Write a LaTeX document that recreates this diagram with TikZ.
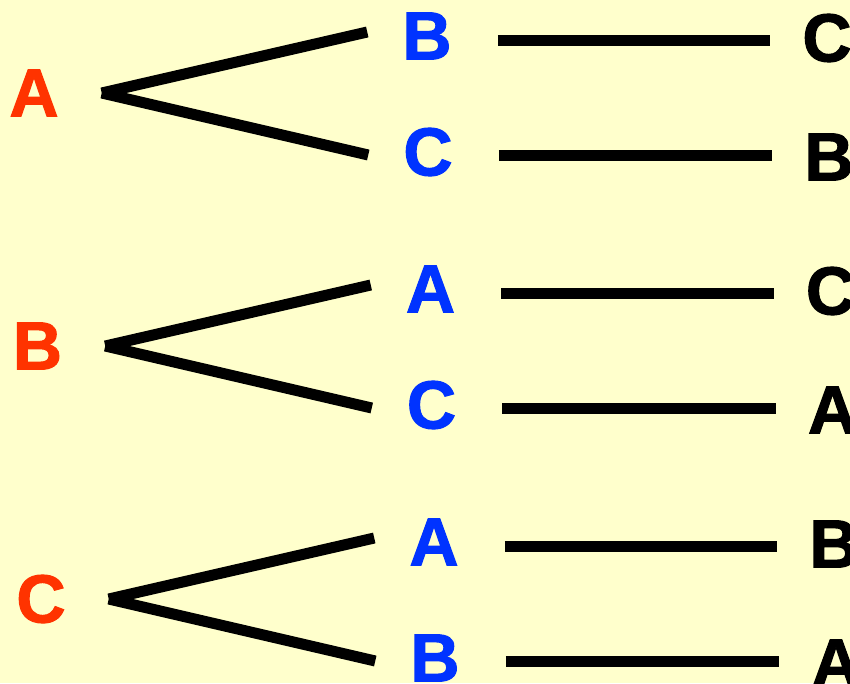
\documentclass[tikz,border=0pt]{standalone}
\usepackage{fontspec}
\setmainfont{Liberation Sans}
\newfontface\heavy{Liberation Sans Bold}[FakeBold=1.6]
\definecolor{paper}{HTML}{FFFFCC}
\definecolor{rootred}{HTML}{FF3300}
\definecolor{midblue}{HTML}{0033FF}
\tikzset{
  letter/.style={inner sep=0pt,font=\heavy\fontsize{68}{68}\selectfont},
  root/.style={letter,text=rootred},
  mid/.style={letter,text=midblue},
  leaf/.style={letter,text=black},
  twig/.style={line width=11pt,black}
}
\begin{document}
\begin{tikzpicture}[x=1pt,y=-1pt]
  \fill[paper] (0,0) rectangle (850,683);
  \useasboundingbox (0,0) rectangle (850,683);
  \clip (0,0) rectangle (850,683);
  \foreach \r/\u/\l/\s/\t [count=\i from 0] in {A/B/C/C/B,B/A/C/C/A,C/A/B/B/A}{
    \begin{scope}[shift={(3.5*\i,253*\i)}]
      \node[root] (r\i) at (34,93) {\r};
      \node[mid] (u\i) at (427,36) {\u};
      \node[mid] (l\i) at (428,152) {\l};
      \node[leaf] (s\i) at (827,38) {\s};
      \node[leaf] (t\i) at (829,157) {\t};
      \coordinate (f\i) at ([xshift=43pt]r\i.east);
      \draw[twig] (f\i) -- ([xshift=-35pt,yshift=4pt]u\i.west);
      \draw[twig] (f\i) -- ([xshift=-35pt,yshift=-3pt]l\i.west);
      \draw[twig] ([xshift=46pt,yshift=-4pt]u\i.east) -- ([xshift=-32pt,yshift=-2pt]s\i.west);
      \draw[twig] ([xshift=46pt,yshift=-3pt]l\i.east) -- ([xshift=-32pt,yshift=2pt]t\i.west);
    \end{scope}
  }
\end{tikzpicture}
\end{document}
